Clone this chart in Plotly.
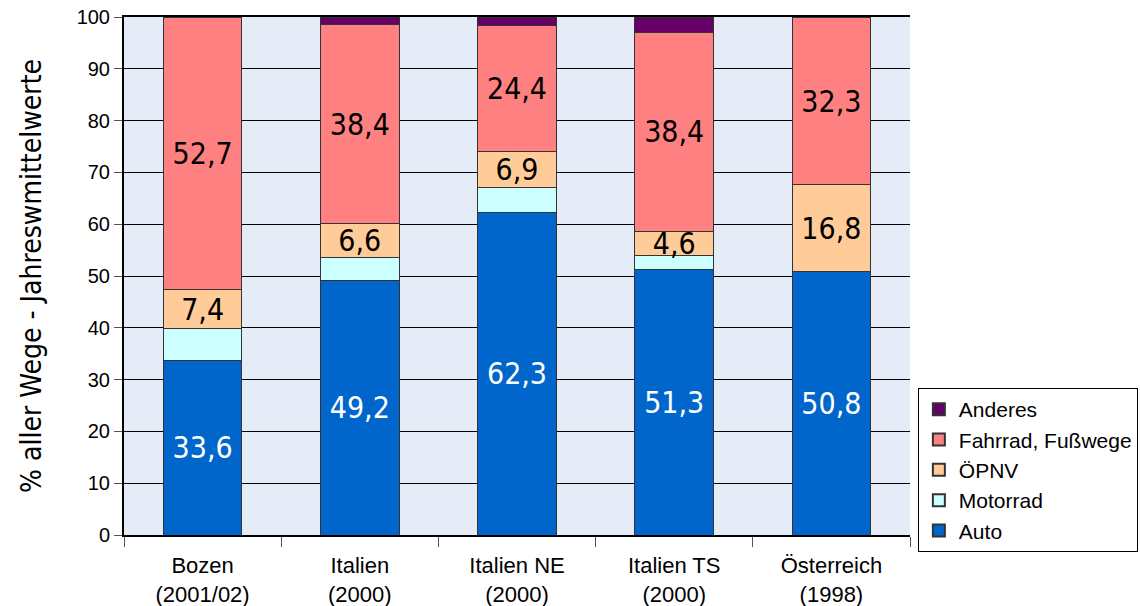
import plotly.graph_objects as go

# categories and values (% of all trips)
categories = ["Bozen<br>(2001/02)", "Italien<br>(2000)", "Italien NE<br>(2000)",
              "Italien TS<br>(2000)", "Österreich<br>(1998)"]
auto = [33.6, 49.2, 62.3, 51.3, 50.8]
motorrad = [6.3, 4.3, 4.8, 2.7, 0.0]
oepnv = [7.4, 6.6, 6.9, 4.6, 16.8]
fahrrad = [52.7, 38.4, 24.4, 38.4, 32.3]
anderes = [0.0, 1.5, 1.6, 3.0, 0.1]

narrow = "DejaVu Sans Condensed, Liberation Sans Narrow, sans-serif"
arial = "Liberation Sans, Arial, sans-serif"


def label(vals):
    return [f"{v:.1f}".replace(".", ",") for v in vals]


series = [
    ("Auto", auto, "#0066cc", label(auto), "white"),
    ("Motorrad", motorrad, "#ccffff", None, "black"),
    ("ÖPNV", oepnv, "#ffcc99", label(oepnv), "black"),
    ("Fahrrad, Fußwege", fahrrad, "#ff8080", label(fahrrad), "black"),
    ("Anderes", anderes, "#660066", None, "black"),
]

fig = go.Figure()
for name, vals, color, text, tcolor in series:
    fig.add_trace(go.Bar(
        x=categories,
        y=vals,
        name=name,
        marker=dict(color=color, line=dict(color="#333333", width=1)),
        text=text,
        textposition="inside" if text else "none",
        insidetextanchor="middle",
        textangle=0,
        textfont=dict(family=narrow, size=30, color=tcolor),
        width=0.5,
    ))

fig.update_layout(
    barmode="stack",
    width=1140,
    height=606,
    margin=dict(l=124, r=230, t=17, b=71, autoexpand=False),
    paper_bgcolor="white",
    plot_bgcolor="#e6ebf8",
    uniformtext=dict(minsize=30, mode="show"),
    showlegend=True,
    legend=dict(
        traceorder="reversed",
        x=1.010, xanchor="left",
        y=-0.033, yanchor="bottom",
        bgcolor="white",
        bordercolor="black",
        borderwidth=1,
        font=dict(family=arial, size=21, color="black"),
        itemsizing="constant",
        tracegroupgap=0,
    ),
    font=dict(family=arial, color="black"),
)

fig.update_yaxes(
    range=[0, 100],
    dtick=10,
    automargin=False,
    showgrid=True,
    gridcolor="black",
    gridwidth=1,
    showline=True,
    linecolor="black",
    linewidth=2,
    ticks="outside",
    ticklen=8,
    tickcolor="#555555",
    tickfont=dict(family=arial, size=20, color="black"),
    title=dict(text="% aller Wege - Jahreswmittelwerte",
               font=dict(family=narrow, size=28, color="black"),
               standoff=27),
    zeroline=False,
)
fig.update_xaxes(
    automargin=False,
    showline=True,
    linecolor="black",
    linewidth=2,
    mirror=True,
    ticks="outside",
    tickson="boundaries",
    ticklen=10,
    tickcolor="#555555",
    ticklabelstandoff=10,
    tickfont=dict(family=arial, size=22, color="black"),
)

# drop the page's default body margin so the figure sits at the window corner
fig.write_html("out.html", config={"displayModeBar": False},
               post_script="document.body.style.margin = '0';")
